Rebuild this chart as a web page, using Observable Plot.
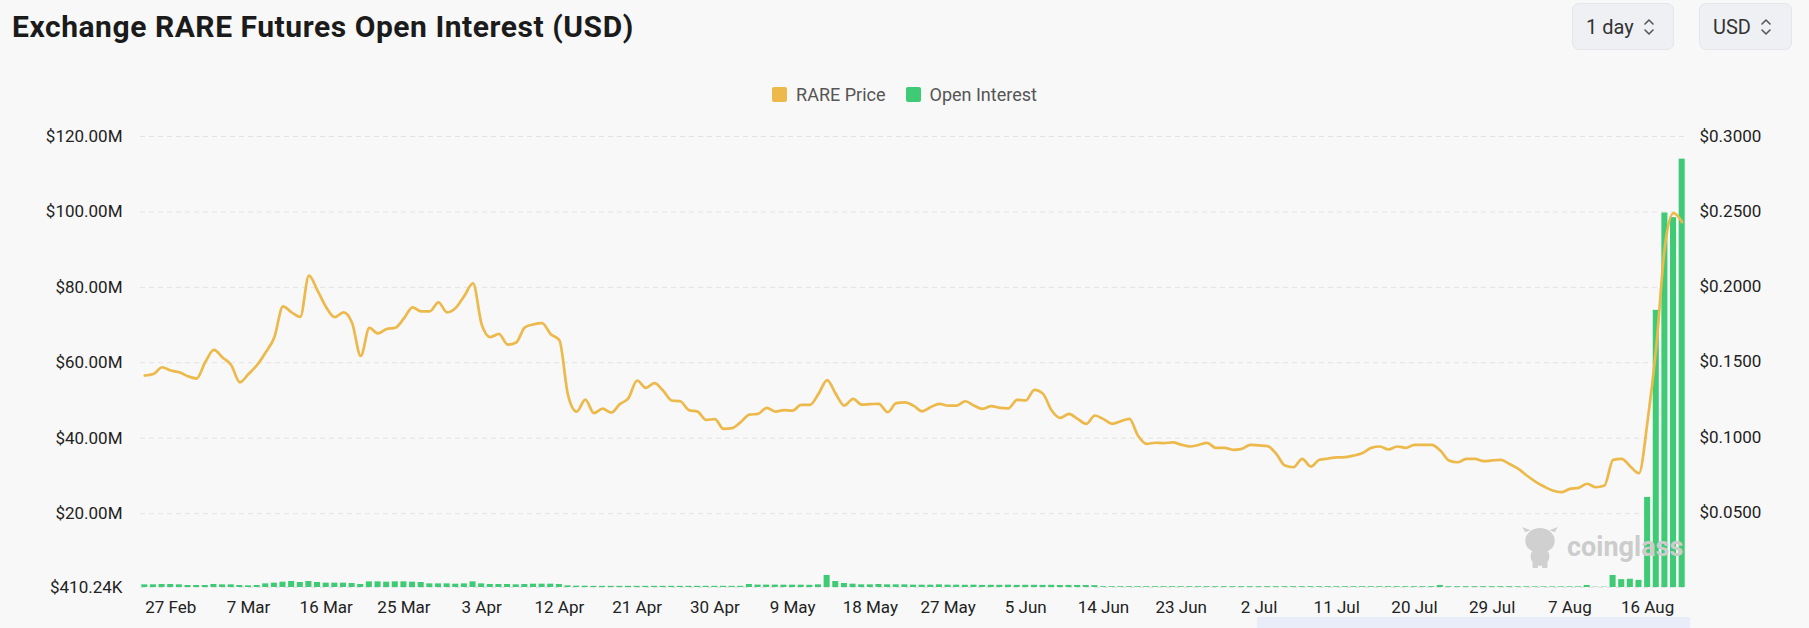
<!DOCTYPE html>
<html>
<head>
<meta charset="utf-8">
<script src="https://cdn.jsdelivr.net/npm/d3@7"></script>
<script src="https://cdn.jsdelivr.net/npm/@observablehq/plot@0.6"></script>
<style>
  html, body { margin: 0; padding: 0; }
  body { width: 1809px; height: 628px; background: #f8f8f8; position: relative; overflow: hidden; font-family: Roboto, "Noto Sans", sans-serif; }
  #title { position: absolute; left: 12px; top: 12px; margin: 0; font-size: 30px; line-height: 30px; font-weight: 700; color: #1b1b1b; letter-spacing: 0.55px; }
  .sel { position: absolute; top: 3px; height: 47px; box-sizing: border-box; background: #eef0f3; border: 1px solid #e3e6ea; border-radius: 7px; font-size: 20px; color: #333; display: flex; align-items: center; }
  .sel span { margin-left: 13px; }
  .sel svg { margin-left: 9px; }
  #legend { position: absolute; top: 84px; left: 0; width: 1809px; display: flex; justify-content: center; align-items: center; font-size: 18px; color: #555; }
  .li { display: flex; align-items: center; margin: 0 10px; }
  .sw { width: 15px; height: 15px; border-radius: 2px; margin-right: 9px; }
  #chart { position: absolute; left: 0; top: 120px; }
  #wm { position: absolute; left: 1521px; top: 526px; display: flex; align-items: center; }
  #wm span { font-size: 27px; font-weight: 700; color: #cccccc; margin-left: 8px; }
  #slider { position: absolute; left: 1257px; top: 617px; width: 433px; height: 11px; background: #e8edf9; }
</style>
</head>
<body>
<h1 id="title">Exchange RARE Futures Open Interest (USD)</h1>
<div class="sel" style="left:1572px;width:102px;"><span>1 day</span>
  <svg width="12" height="20" viewBox="0 0 12 20"><path d="M2 7 L6 3 L10 7 M2 13 L6 17 L10 13" fill="none" stroke="#555" stroke-width="1.6" stroke-linecap="round" stroke-linejoin="round"/></svg></div>
<div class="sel" style="left:1699px;width:93px;"><span>USD</span>
  <svg width="12" height="20" viewBox="0 0 12 20"><path d="M2 7 L6 3 L10 7 M2 13 L6 17 L10 13" fill="none" stroke="#555" stroke-width="1.6" stroke-linecap="round" stroke-linejoin="round"/></svg></div>
<div id="legend"></div>
<div id="chart"></div>
<div id="wm">
  <svg width="38" height="42" viewBox="0 0 36 40"><ellipse cx="18" cy="14" rx="14" ry="12" fill="#d0d0d0"/><path d="M4 6 L1 1 L9 4 Z M32 6 L35 1 L27 4 Z" fill="#d0d0d0"/><ellipse cx="18" cy="29" rx="9" ry="9" fill="#d0d0d0"/><rect x="11" y="33" width="5" height="7" fill="#d0d0d0"/><rect x="20" y="33" width="5" height="7" fill="#d0d0d0"/></svg>
  <span>coinglass</span>
</div>
<div id="slider"></div>
<script>
// ---- data ----
const startDate = "2024-02-24";
const seriesNames = ["RARE Price", "Open Interest"];
const seriesColors = ["#ecb94a", "#3fcb76"];
// RARE price (USD), one value per day from startDate
const price = [
0.141,0.142,0.1465,0.1443,0.1432,0.1405,0.139,0.150,0.158,0.153,
0.148,0.1365,0.142,0.148,0.1565,0.1665,0.187,0.183,0.180,0.2075,
0.1975,0.1864,0.1798,0.183,0.176,0.154,0.1727,0.169,0.172,0.1728,
0.179,0.1864,0.1837,0.1837,0.1897,0.183,0.186,0.194,0.2024,0.175,
0.1665,0.1687,0.1616,0.163,0.173,0.175,0.1758,0.1685,0.1645,0.128,
0.117,0.125,0.116,0.119,0.1164,0.122,0.126,0.1377,0.1328,0.1359,
0.131,0.1244,0.1239,0.118,0.117,0.1115,0.112,0.1055,0.106,0.11,
0.115,0.1155,0.1195,0.117,0.118,0.1177,0.1215,0.1215,0.1288,0.138,
0.1288,0.121,0.1255,0.1217,0.122,0.1222,0.1166,0.1226,0.1232,0.121,
0.1172,0.120,0.1222,0.121,0.121,0.1239,0.121,0.1188,0.1206,0.1195,
0.1192,0.1248,0.1244,0.1315,0.1288,0.1177,0.1128,0.1155,0.1122,0.1089,
0.1144,0.112,0.1089,0.1106,0.1122,0.101,0.0956,0.0963,0.096,0.0966,
0.095,0.0938,0.0948,0.0962,0.0929,0.0929,0.0916,0.0922,0.0949,0.0945,
0.094,0.0889,0.0811,0.080,0.0856,0.0805,0.085,0.0858,0.0865,0.0867,
0.0878,0.0895,0.0929,0.0938,0.0918,0.0938,0.0929,0.0949,0.0949,0.0949,
0.0911,0.0845,0.0833,0.0856,0.0856,0.084,0.0845,0.0849,0.0822,0.079,
0.0745,0.0705,0.0672,0.0645,0.0634,0.0656,0.0663,0.069,0.0667,0.0678,
0.0849,0.0856,0.0805,0.076,0.111,0.160,0.227,0.249,0.243
];
// Open interest (USD millions), one value per day from startDate
const openInterestM = [
1.12,1.12,1.21,1.21,1.12,0.94,0.94,0.94,1.21,1.12,
1.12,0.94,0.85,0.94,1.38,1.56,1.82,2.00,1.74,2.00,
1.74,1.56,1.56,1.56,1.47,1.21,1.91,1.91,1.82,1.91,
1.91,1.82,1.74,1.38,1.38,1.38,1.29,1.38,1.91,1.38,
1.21,1.21,1.21,1.12,1.21,1.29,1.29,1.29,1.21,0.85,
0.76,0.76,0.72,0.72,0.72,0.72,0.72,0.72,0.72,0.72,
0.72,0.72,0.72,0.72,0.72,0.72,0.72,0.72,0.72,0.72,
1.21,1.05,1.05,1.05,1.03,1.03,1.03,1.00,1.12,3.60,
2.00,1.47,1.29,1.12,1.12,1.21,1.12,1.12,1.12,1.03,
1.03,1.03,1.12,1.03,1.03,1.00,1.03,0.97,1.00,1.00,
1.03,0.97,1.00,1.00,0.97,1.00,0.95,0.97,0.95,0.95,
0.90,0.62,0.62,0.62,0.62,0.62,0.62,0.62,0.62,0.62,
0.62,0.62,0.62,0.62,0.62,0.62,0.62,0.62,0.62,0.62,
0.62,0.62,0.62,0.62,0.62,0.62,0.62,0.62,0.62,0.62,
0.62,0.62,0.62,0.62,0.62,0.62,0.62,0.62,0.62,0.62,
0.95,0.62,0.62,0.62,0.62,0.62,0.62,0.62,0.62,0.60,
0.60,0.58,0.58,0.58,0.58,0.58,0.58,0.95,0.50,0.50,
3.60,2.50,2.60,2.30,24.3,73.9,99.7,98.5,114.0
];
const oiTicks = [410240, 20e6, 40e6, 60e6, 80e6, 100e6, 120e6];
const priceTicks = [0.05, 0.10, 0.15, 0.20, 0.25, 0.30];
const priceMax = 0.3;
const xTickDates = ["2024-02-27","2024-03-07","2024-03-16","2024-03-25","2024-04-03","2024-04-12","2024-04-21","2024-04-30","2024-05-09","2024-05-18","2024-05-27","2024-06-05","2024-06-14","2024-06-23","2024-07-02","2024-07-11","2024-07-20","2024-07-29","2024-08-07","2024-08-16"];

// ---- build ----
const day = 864e5;
const t0 = new Date(startDate + "T00:00:00Z");
const rows = price.map((p, i) => ({date: d3.utcDay.offset(t0, i), price: p, oi: openInterestM[i] * 1e6}));
const oiMin = oiTicks[0], oiMax = oiTicks[oiTicks.length - 1];
const toLeft = p => oiMin + p / priceMax * (oiMax - oiMin);
const fromLeft = v => (v - oiMin) / (oiMax - oiMin) * priceMax;

const leg = document.getElementById("legend");
seriesNames.forEach((n, i) => {
  const el = document.createElement("div"); el.className = "li";
  el.innerHTML = `<div class="sw" style="background:${seriesColors[i]}"></div><span>${n}</span>`;
  leg.appendChild(el);
});

const fmtOI = v => v < 1e6 ? "$" + (v / 1e3).toFixed(2) + "K" : "$" + (v / 1e6).toFixed(2) + "M";
const xDomain = [new Date(+t0 - day / 2), new Date(+rows[rows.length - 1].date + day / 2)];

const chart = Plot.plot({
  width: 1809, height: 507,
  marginTop: 16, marginBottom: 40, marginLeft: 140, marginRight: 123,
  style: {background: "transparent", fontFamily: "Roboto, sans-serif", fontSize: "16.5px", color: "#333", overflow: "visible"},
  x: {type: "utc", domain: xDomain},
  y: {domain: [oiMin, oiMax]},
  marks: [
    Plot.ruleY(oiTicks, {stroke: "#e3e3e3", strokeDasharray: "5,4", strokeWidth: 1}),
    Plot.rect(rows, {x1: d => new Date(+d.date - 0.35 * day), x2: d => new Date(+d.date + 0.35 * day), y1: oiMin, y2: "oi", fill: seriesColors[1]}),
    Plot.line(rows, {x: "date", y: d => toLeft(d.price), stroke: seriesColors[0], strokeWidth: 2.7, curve: "monotone-x"}),
    Plot.axisX(xTickDates.map(s => new Date(s + "T00:00:00Z")), {tickFormat: d3.utcFormat("%-d %b"), tickSize: 0, tickPadding: 13, label: null, fill: "#222", fontSize: 17}),
    Plot.axisY(oiTicks, {anchor: "left", tickFormat: fmtOI, tickSize: 0, tickPadding: 18, label: null, fill: "#222", fontSize: 17}),
    Plot.axisY(priceTicks.map(toLeft), {anchor: "right", tickFormat: v => "$" + fromLeft(v).toFixed(4), tickSize: 0, tickPadding: 13, label: null, fill: "#222", fontSize: 17})
  ]
});
document.getElementById("chart").appendChild(chart);
</script>
</body>
</html>
